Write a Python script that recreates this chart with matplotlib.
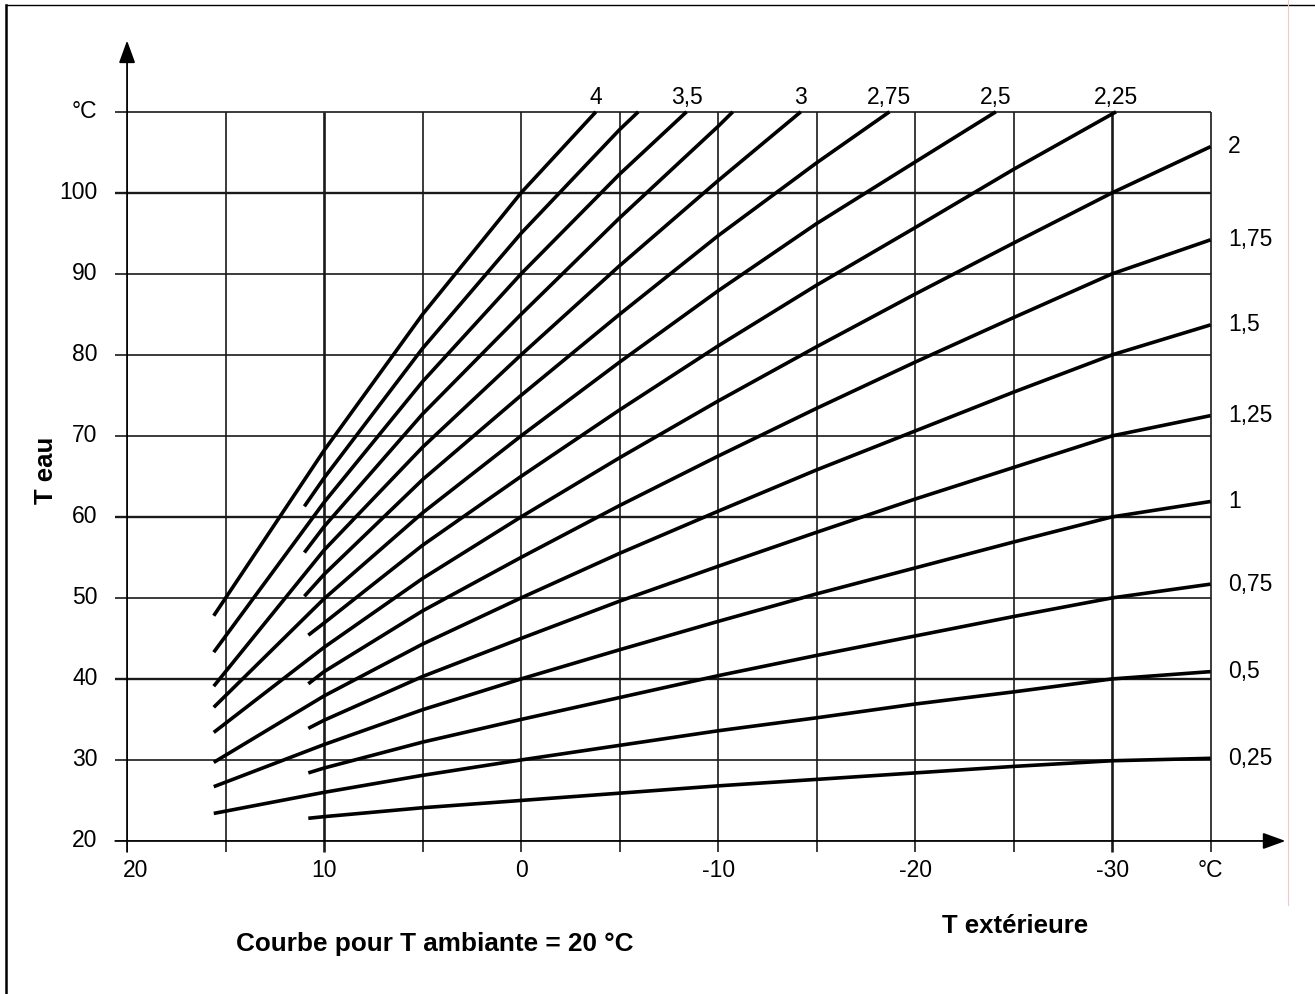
import matplotlib
matplotlib.use('Agg')
import matplotlib.pyplot as plt
from matplotlib.lines import Line2D

plt.rcParams['font.family'] = ['Liberation Sans', 'DejaVu Sans']

# pente de chaque courbe de chauffe
pentes = ['4', '3,75', '3,5', '3,25', '3', '2,75', '2,5', '2,25',
          '2', '1,75', '1,5', '1,25', '1', '0,75', '0,5', '0,25']

# T exterieure (°C) des points lus sur chaque courbe
courbes_x = [
    [15.6, 10, 5, 0, -3.8],
    [11.0, 10, 5, 0, -5, -5.95],
    [15.6, 10, 5, 0, -5, -8.4],
    [11.0, 10, 5, 0, -5, -10, -10.75],
    [15.6, 10, 5, 0, -5, -10, -14.2],
    [11.0, 10, 5, 0, -5, -10, -15, -18.7],
    [15.6, 10, 5, 0, -5, -10, -15, -20, -24.1],
    [10.8, 10, 5, 0, -5, -10, -15, -20, -25, -30.2],
    [15.6, 10, 5, 0, -5, -10, -15, -20, -25, -30, -35],
    [10.8, 10, 5, 0, -5, -10, -15, -20, -25, -30, -35],
    [15.6, 10, 5, 0, -5, -10, -15, -20, -25, -30, -35],
    [10.8, 10, 5, 0, -5, -10, -15, -20, -25, -30, -35],
    [15.6, 10, 5, 0, -5, -10, -15, -20, -25, -30, -35],
    [10.8, 10, 5, 0, -5, -10, -15, -20, -25, -30, -35],
    [15.6, 10, 5, 0, -5, -10, -15, -20, -25, -30, -35],
    [10.8, 10, 5, 0, -5, -10, -15, -20, -25, -30, -35],
]

# T eau (°C) correspondante
courbes_t = [
    [47.8, 68.2, 85.0, 100.0, 110.0],
    [61.3, 64.8, 80.8, 95.0, 107.8, 110.0],
    [43.3, 61.8, 76.7, 90.0, 102.3, 110.0],
    [55.6, 58.8, 72.7, 85.0, 96.9, 108.2, 110.0],
    [39.1, 55.9, 68.6, 80.0, 91.0, 101.5, 110.0],
    [50.2, 52.9, 64.6, 75.0, 85.0, 94.7, 103.7, 110.0],
    [36.5, 49.9, 60.5, 70.0, 79.1, 87.9, 96.2, 103.8, 110.0],
    [45.4, 46.9, 56.5, 65.0, 73.2, 81.1, 88.6, 95.7, 102.9, 110.0],
    [33.4, 43.9, 52.4, 60.0, 67.3, 74.3, 81.0, 87.5, 93.8, 100.0, 105.7],
    [39.4, 40.9, 48.4, 55.0, 61.4, 67.5, 73.4, 79.1, 84.6, 90.0, 94.2],
    [29.7, 37.9, 44.3, 50.0, 55.5, 60.7, 65.8, 70.6, 75.4, 80.0, 83.7],
    [33.9, 34.9, 40.3, 45.0, 49.6, 53.9, 58.1, 62.2, 66.1, 70.0, 72.5],
    [26.7, 31.9, 36.2, 40.0, 43.6, 47.1, 50.5, 53.7, 56.9, 60.0, 61.9],
    [28.4, 29.0, 32.2, 35.0, 37.7, 40.4, 42.9, 45.3, 47.7, 50.0, 51.7],
    [23.4, 26.0, 28.1, 30.0, 31.8, 33.6, 35.2, 36.9, 38.4, 40.0, 40.9],
    [22.8, 23.0, 24.1, 25.0, 25.9, 26.8, 27.6, 28.4, 29.2, 29.9, 30.2],
]

# etiquettes en haut (courbes qui sortent par 110 °C)
etiquettes_haut = ['4', '3,5', '3', '2,75', '2,5', '2,25']

grille_x = [15, 10, 5, 0, -5, -10, -15, -20, -25, -30, -35]
grille_y = [30, 40, 50, 60, 70, 80, 90, 100, 110]
grille_x_epaisse = [10, -30]
grille_y_epaisse = [40, 60, 100]

ticks_x = [20, 10, 0, -10, -20, -30, -35]
labels_x = ['20', '10', '0', '-10', '-20', '-30', '°C']
ticks_y = [20, 30, 40, 50, 60, 70, 80, 90, 100, 110]
labels_y = ['20', '30', '40', '50', '60', '70', '80', '90', '100', '°C']

fig = plt.figure(figsize=(13.15, 9.94), dpi=100)
ax = fig.add_axes([0, 0, 1, 1])
ax.set_xlim(26.45, -40.3)
ax.set_ylim(1.11, 123.8)
ax.axis('off')

gris = '#1a1a1a'
for xv in grille_x:
    lw = 1.9 if xv in grille_x_epaisse else 1.2
    ax.plot([xv, xv], [18.65, 110], color=gris, lw=lw, solid_capstyle='butt')
for yv in grille_y:
    lw = 1.7 if yv in grille_y_epaisse else 1.2
    ax.plot([20.6, -35], [yv, yv], color=gris, lw=lw, solid_capstyle='butt')

# axes avec fleches
fleche = dict(arrowstyle='-|>,head_length=0.55,head_width=0.2', color='black',
              lw=1.3, mutation_scale=25, shrinkA=0, shrinkB=0)
ax.annotate('', xy=(20, 118.8), xytext=(20, 18.65), arrowprops=fleche)
ax.annotate('', xy=(-38.8, 20), xytext=(20.6, 20), arrowprops=fleche)

# courbes
for px, pt in zip(courbes_x, courbes_t):
    ax.plot(px, pt, color='black', lw=2.6, solid_capstyle='butt',
            solid_joinstyle='round')

for nom, px, pt in zip(pentes, courbes_x, courbes_t):
    if pt[-1] >= 110 and nom in etiquettes_haut:
        ax.text(px[-1], 110.3, nom, ha='center', va='bottom', fontsize=16.5)
    elif px[-1] <= -35:
        ax.text(-35.9, pt[-1], nom, ha='left', va='center', fontsize=16.5)

for xv, lab in zip(ticks_x, labels_x):
    dx = -0.45 if xv == 20 else 0
    ax.text(xv + dx, 16.4, lab, ha='center', va='center', fontsize=16.5)
for yv, lab in zip(ticks_y, labels_y):
    ax.text(21.5, yv, lab, ha='right', va='center', fontsize=16.5)

ax.text(24.1, 65.8, 'T eau', rotation=90, ha='center', va='center',
        fontsize=18.5, fontweight='bold')
ax.text(-25.1, 9.5, 'T extérieure', ha='center', va='center',
        fontsize=18.5, fontweight='bold')
ax.text(4.4, 7.3, 'Courbe pour T ambiante = 20 °C', ha='center', va='center',
        fontsize=18.8, fontweight='bold')

# cadre de la page
W, H = 1315, 994
fig.add_artist(Line2D([6 / W, 6 / W], [0, 1 - 5 / H], color='black', lw=1.8,
                      transform=fig.transFigure))
fig.add_artist(Line2D([6 / W, 1], [1 - 5 / H, 1 - 5 / H], color='black', lw=1.0,
                      transform=fig.transFigure))
fig.add_artist(Line2D([1288 / W, 1288 / W], [1 - 905 / H, 1], color='#f4c8c8',
                      lw=0.8, transform=fig.transFigure))

fig.savefig('out.png', dpi=100)
